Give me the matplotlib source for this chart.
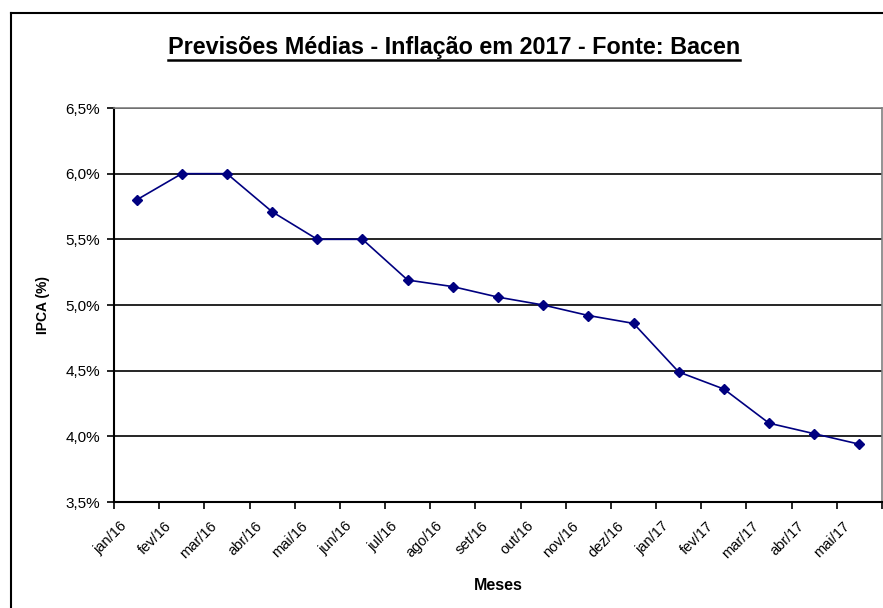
import matplotlib
matplotlib.use('Agg')
import matplotlib.pyplot as plt
import numpy as np
from matplotlib.ticker import FuncFormatter, FixedLocator
from matplotlib.lines import Line2D

plt.rcParams['font.family'] = ['Liberation Sans', 'DejaVu Sans']

meses = ['jan/16', 'fev/16', 'mar/16', 'abr/16', 'mai/16', 'jun/16', 'jul/16',
         'ago/16', 'set/16', 'out/16', 'nov/16', 'dez/16', 'jan/17', 'fev/17',
         'mar/17', 'abr/17', 'mai/17']
ipca = [5.80, 6.00, 6.00, 5.71, 5.50, 5.50, 5.19, 5.14, 5.06, 5.00, 4.92,
        4.86, 4.49, 4.36, 4.10, 4.02, 3.94]
y_ticks = [3.5, 4.0, 4.5, 5.0, 5.5, 6.0, 6.5]

fig = plt.figure(figsize=(8.83, 6.08), dpi=100)
ax = fig.add_axes([114/883, 1-502/608, (882-114)/883, (502-108)/608])

x = np.arange(len(meses))
ax.plot(x, ipca, color='#000080', lw=1.2, marker='D', ms=5.5,
        markerfacecolor='#000080', markeredgecolor='#000080', zorder=3)

ax.set_xlim(-0.5, len(meses) - 0.5)
ax.set_ylim(3.5, 6.5)
ax.set_yticks(y_ticks)
ax.yaxis.set_major_formatter(FuncFormatter(lambda v, p: ('%.1f%%' % v).replace('.', ',')))
ax.grid(axis='y', color='black', lw=1.2)
ax.set_axisbelow(True)

# labels anchored a bit left of each category centre, like Excel does
ax.set_xticks(x - 0.38)
ax.set_xticklabels(meses, rotation=45, ha='right', va='top',
                   rotation_mode='anchor', fontsize=10.5)
ax.xaxis.set_minor_locator(FixedLocator(np.arange(-0.5, len(meses), 1.0)))
ax.tick_params(axis='x', which='major', length=0, pad=12)
ax.tick_params(axis='x', which='minor', length=5, width=1.2, direction='out')
ax.tick_params(axis='y', length=5, width=1.2, direction='out', labelsize=11, pad=5)

for s in ['top', 'right']:
    ax.spines[s].set_color('#808080')
    ax.spines[s].set_linewidth(1.2)
for s in ['left', 'bottom']:
    ax.spines[s].set_color('black')
    ax.spines[s].set_linewidth(1.5)

ax.set_ylabel('IPCA (%)', fontsize=10, fontweight='bold')
ax.yaxis.set_label_coords((43-114)/768, 0.5)
ax.set_xlabel('Meses', fontsize=11.5, fontweight='bold')
ax.xaxis.set_label_coords(0.5, (502-585)/394)
ax.xaxis.label.set_va('center')
ax.yaxis.label.set_va('center')

t = fig.text(454/883, 1-47.5/608, 'Previsões Médias - Inflação em 2017 - Fonte: Bacen',
             ha='center', va='center', fontsize=16.8, fontweight='bold')
fig.canvas.draw()
bb = t.get_window_extent().transformed(fig.transFigure.inverted())
fig.add_artist(Line2D([bb.x0, bb.x1], [bb.y0 - 0.001, bb.y0 - 0.001], color='black', lw=1.8))

# chart frame
fig.add_artist(Line2D([11/883, 11/883], [0, 1-13/608], color='black', lw=1.5))
fig.add_artist(Line2D([11/883, 1], [1-13/608, 1-13/608], color='black', lw=1.5))

fig.savefig('out.png', dpi=100)
